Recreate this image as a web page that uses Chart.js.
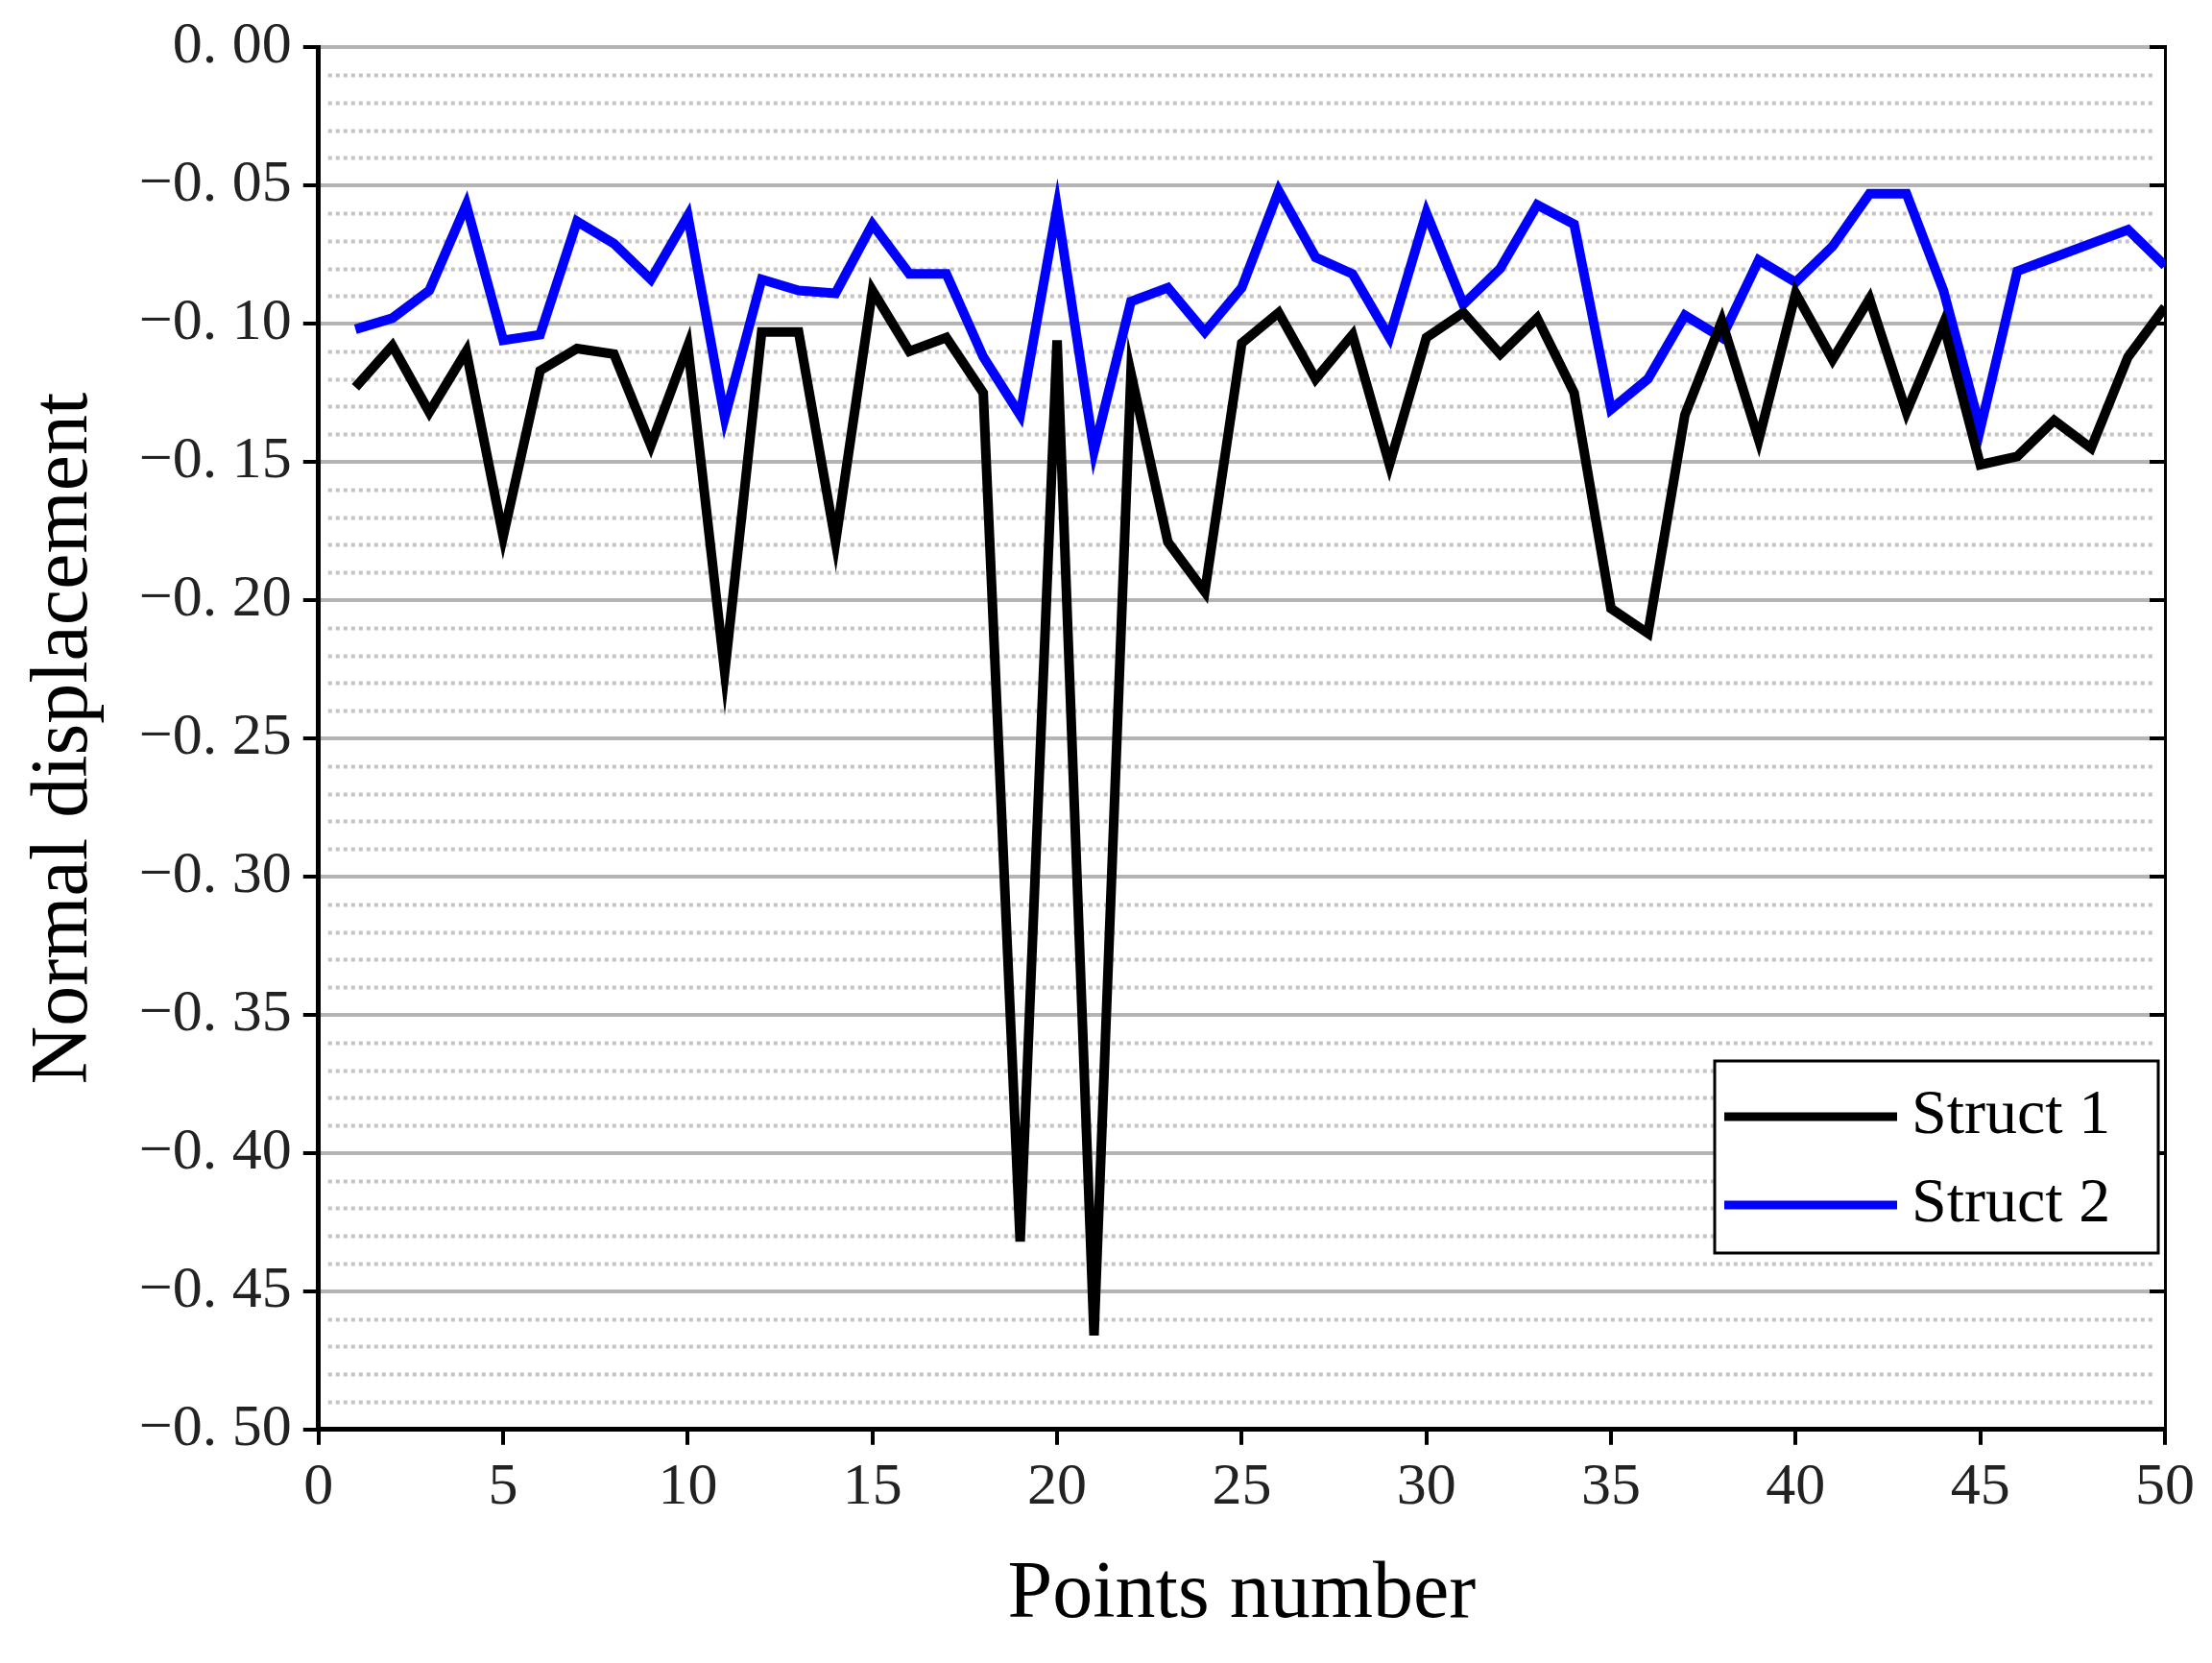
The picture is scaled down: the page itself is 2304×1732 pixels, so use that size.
<!DOCTYPE html>
<html>
<head>
<meta charset="utf-8">
<script src="https://cdn.jsdelivr.net/npm/chart.js@4.4.0/dist/chart.umd.min.js"></script>
<style>
  html, body { margin: 0; padding: 0; background: #fff; }
  #wrap { width: 2304px; height: 1732px; }
</style>
</head>
<body>
<div id="wrap"><canvas id="c"></canvas></div>
<script>
// 데이터
const points = Array.from({length: 50}, (_, i) => i + 1);
const struct1 = [-0.123, -0.108, -0.132, -0.110, -0.177, -0.117, -0.109, -0.111, -0.144, -0.108,
                 -0.226, -0.103, -0.103, -0.179, -0.088, -0.110, -0.105, -0.125, -0.432, -0.106,
                 -0.466, -0.118, -0.179, -0.197, -0.107, -0.096, -0.120, -0.104, -0.151, -0.105,
                 -0.096, -0.111, -0.098, -0.125, -0.203, -0.212, -0.133, -0.099, -0.142, -0.089,
                 -0.113, -0.091, -0.132, -0.100, -0.151, -0.148, -0.135, -0.145, -0.112, -0.094];
const struct2 = [-0.102, -0.098, -0.088, -0.057, -0.106, -0.104, -0.063, -0.071, -0.084, -0.061,
                 -0.134, -0.084, -0.088, -0.089, -0.064, -0.082, -0.082, -0.112, -0.133, -0.058,
                 -0.146, -0.092, -0.087, -0.103, -0.087, -0.052, -0.076, -0.082, -0.105, -0.060,
                 -0.093, -0.080, -0.057, -0.064, -0.131, -0.120, -0.097, -0.105, -0.077, -0.085,
                 -0.072, -0.053, -0.053, -0.088, -0.138, -0.081, -0.076, -0.071, -0.066, -0.079];
const seriesNames = ['Struct 1', 'Struct 2'];
const seriesColors = ['#000000', '#0000ff'];
const minorStep = 0.01;

const FONT = '"Liberation Serif", "DejaVu Serif", serif';

function fmt(v) {
    // "0. 05" 식 표기
    const s = Math.abs(v).toFixed(2).replace('.', '. ');
    return (v < -1e-9 ? '\u2212' : '') + s;
}

// 보조 눈금선 (점선)
const minorGrid = {
    id: 'minorGrid',
    beforeDatasetsDraw(chart) {
        const {ctx, chartArea: a, scales: {y}} = chart;
        ctx.save();
        ctx.strokeStyle = '#c4c4c4';
        ctx.lineWidth = 4;
        ctx.setLineDash([4, 4]);
        for (let k = 1; k < 50; k++) {
            if (k % 5 === 0) continue;
            const py = Math.round(y.getPixelForValue(-k * minorStep)) + 0.5;
            ctx.beginPath();
            ctx.moveTo(a.left + 10, py);
            ctx.lineTo(a.right - 10, py);
            ctx.stroke();
        }
        ctx.restore();
    }
};

// 범례 박스
const boxLegend = {
    id: 'boxLegend',
    afterDraw(chart) {
        const {ctx, chartArea: a} = chart;
        const w = 462, h = 200;
        const x0 = a.right - w - 7, y0 = 1105;
        ctx.save();
        ctx.fillStyle = '#fff';
        ctx.fillRect(x0, y0, w, h);
        ctx.strokeStyle = '#000';
        ctx.lineWidth = 3;
        ctx.strokeRect(x0, y0, w, h);
        ctx.font = '66px ' + FONT;
        ctx.textBaseline = 'middle';
        seriesNames.forEach((name, i) => {
            const cy = y0 + 58 + i * 92;
            ctx.strokeStyle = seriesColors[i];
            ctx.lineWidth = 9;
            ctx.beginPath();
            ctx.moveTo(x0 + 10, cy);
            ctx.lineTo(x0 + 190, cy);
            ctx.stroke();
            ctx.fillStyle = '#000';
            ctx.fillText(name, x0 + 205, cy);
        });
        ctx.restore();
    }
};

const ctx = document.getElementById('c').getContext('2d');
new Chart(ctx, {
    type: 'line',
    data: {
        labels: points,
        datasets: seriesNames.map((name, i) => ({
            label: name,
            data: (i === 0 ? struct1 : struct2).map((v, j) => ({x: points[j], y: v})),
            borderColor: seriesColors[i],
            borderWidth: 10,
            pointRadius: 0,
            tension: 0,
            fill: false
        }))
    },
    options: {
        responsive: true,
        maintainAspectRatio: false,
        animation: false,
        devicePixelRatio: 1,
        layout: { padding: { top: 44, right: 49, left: 14, bottom: 16 } },
        plugins: { legend: { display: false }, tooltip: { enabled: false } },
        scales: {
            x: {
                type: 'linear', min: 0, max: 50,
                ticks: { stepSize: 5, color: '#222', font: { family: FONT, size: 62 }, padding: 8 },
                grid: { drawOnChartArea: false, drawTicks: true, tickLength: 16, color: '#000', lineWidth: 4 },
                border: { color: '#000', width: 5 },
                title: { display: true, text: 'Points number', color: '#000', font: { family: FONT, size: 84 }, padding: { top: 16 } }
            },
            y: {
                min: -0.5, max: 0,
                ticks: { stepSize: 0.05, color: '#222', font: { family: FONT, size: 62 }, padding: 12, callback: v => fmt(v) },
                grid: { color: '#b4b4b4', lineWidth: 4, tickColor: '#000', tickLength: 16 },
                border: { color: '#000', width: 5 },
                title: { display: true, text: 'Normal displacement', color: '#000', font: { family: FONT, size: 84 }, padding: { bottom: 14 } }
            },
            y2: {
                position: 'right', min: -0.5, max: 0,
                ticks: { stepSize: 0.05, display: false },
                grid: { drawOnChartArea: false, tickColor: '#000', tickLength: -16, lineWidth: 4 },
                border: { color: '#000', width: 3 }
            }
        }
    },
    plugins: [minorGrid, boxLegend]
});
</script>
</body>
</html>
